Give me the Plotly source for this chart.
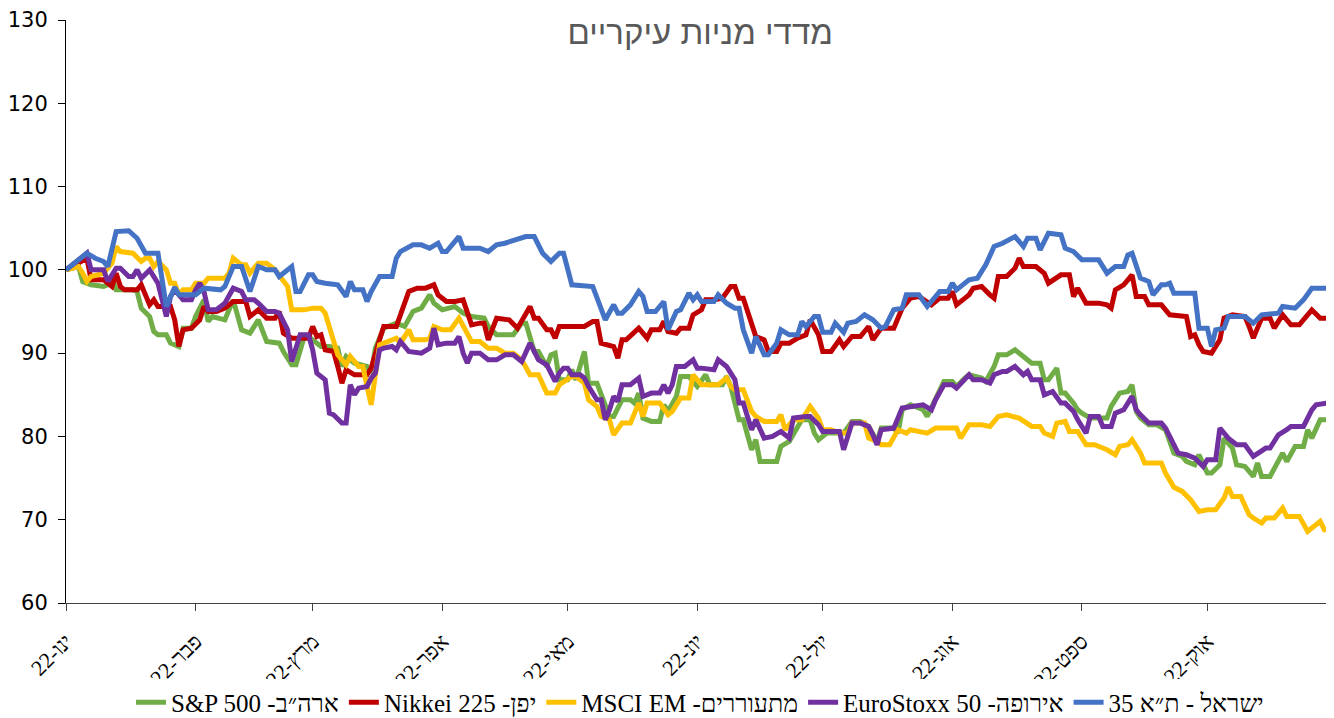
import pandas as pd
import plotly.graph_objects as go

# trading-day offsets (days since 2022-01-01) and index values, base = 100
sp500_days = [0, 3, 4, 6, 9, 10, 11, 12, 16, 17, 18, 20, 21, 22, 24, 25, 27, 28, 30, 31, 33, 34, 35, 38, 40, 42, 44, 46, 48, 51, 52, 54, 55, 57, 58, 60, 61, 63, 65, 66, 67, 69, 72, 73, 74, 76, 79, 81, 83, 85, 87, 88, 90, 93, 95, 97, 100, 101, 103, 107, 109, 110, 112, 113, 115, 116, 117, 118, 120, 121, 122, 124, 125, 127, 129, 130, 131, 133, 135, 136, 137, 138, 140, 142, 143, 144, 146, 147, 149, 151, 153, 154, 157, 158, 159, 161, 162, 164, 165, 166, 170, 171, 173, 175, 176, 178, 179, 180, 182, 184, 186, 188, 190, 192, 193, 194, 195, 198, 199, 200, 202, 205, 206, 208, 210, 212, 213, 215, 216, 219, 220, 222, 223, 225, 227, 229, 231, 233, 234, 235, 237, 238, 239, 241, 242, 243, 245, 247, 249, 250, 252, 254, 255, 256, 257, 259, 261, 263, 265, 267, 268, 270, 271, 273, 274, 276, 277, 279, 280, 282, 284, 285, 286, 288, 290, 291, 292, 294, 296, 297, 298, 300, 302, 303]
sp500 = [100, 100.4, 98.6, 98.2, 98, 98.2, 99, 97.6, 97.6, 97.4, 95.4, 94.4, 92.6, 92.2, 92.2, 91.2, 90.8, 93, 93, 94.4, 96.4, 93.8, 94.4, 94, 96.4, 92.8, 92.4, 94, 91.4, 91.2, 90.2, 88.6, 88.6, 92, 92, 91.2, 90.8, 90.8, 90.6, 88.4, 89.6, 88.8, 88.4, 87.6, 90.6, 93, 93.6, 93.2, 95, 95.4, 97, 96, 95.2, 95.6, 94.8, 94.4, 94.2, 93.2, 92.2, 92.2, 93.6, 93.6, 90.2, 90.2, 88.4, 89.8, 90, 86.8, 86.8, 88, 86.8, 90.2, 86.4, 86.4, 83.6, 82.4, 82.4, 84.4, 84.4, 84, 85.2, 82.2, 81.8, 81.8, 83.8, 83, 84.8, 87.2, 87.2, 86, 87.4, 86.2, 86.2, 87.2, 86, 82, 82, 78.4, 79.6, 77, 77, 78.8, 79.4, 81.2, 82, 82, 80.4, 79.6, 80.4, 80.4, 80.4, 81.8, 81.8, 81.2, 80.4, 79.4, 81, 81, 80.4, 83.2, 83.8, 83.2, 82.4, 84.4, 86.6, 86.6, 86, 87, 87.4, 87, 86.6, 88.4, 89.8, 89.8, 90.4, 89.6, 88.8, 88.8, 86.8, 86.8, 88.2, 85.2, 85.2, 84, 83.2, 82.8, 82.2, 82.2, 82.2, 83.6, 85.2, 85.4, 86.2, 83, 82.2, 81.4, 81.4, 80.8, 78, 77.6, 77, 76.6, 77.8, 75.6, 75.6, 76.6, 79.8, 78.6, 76.6, 76.4, 75.2, 76.8, 75.2, 75.2, 77.2, 78, 77, 78.8, 78.8, 80.8, 79.8, 82, 82, 81.2]

nikkei_days = [0, 3, 5, 6, 9, 11, 12, 13, 14, 17, 18, 20, 21, 22, 25, 26, 27, 28, 30, 32, 33, 34, 36, 38, 40, 43, 44, 46, 48, 50, 51, 52, 54, 58, 59, 60, 61, 62, 64, 65, 66, 67, 69, 72, 73, 75, 76, 79, 82, 84, 86, 88, 89, 91, 93, 95, 97, 99, 100, 101, 103, 106, 108, 111, 112, 113, 115, 116, 117, 118, 124, 126, 127, 128, 131, 132, 133, 134, 137, 139, 140, 142, 143, 144, 146, 147, 149, 150, 152, 153, 155, 157, 159, 160, 161, 162, 164, 165, 167, 168, 170, 171, 173, 175, 177, 178, 180, 181, 183, 185, 186, 188, 190, 192, 193, 195, 198, 200, 202, 204, 207, 209, 211, 212, 213, 216, 217, 219, 221, 222, 223, 225, 227, 228, 229, 232, 234, 235, 238, 240, 241, 242, 244, 247, 249, 250, 251, 253, 255, 256, 258, 259, 262, 264, 268, 269, 270, 271, 272, 274, 276, 277, 279, 282, 283, 284, 286, 288, 289, 291, 293, 295, 298, 300, 302, 303]
nikkei = [100, 100.8, 101.4, 98.8, 98.8, 98, 99.6, 98, 97.6, 97.6, 98.2, 95.8, 96.4, 95.6, 95.6, 94, 90.8, 92.8, 93, 94, 95.6, 95, 95, 95.4, 96.2, 96.2, 94.4, 95.2, 94.2, 94.2, 95, 92.4, 91.8, 91.8, 93.2, 92, 92.2, 90.4, 90.2, 88.4, 86.4, 88, 87.4, 87.4, 88.2, 91.6, 93.2, 93.2, 97.4, 97.8, 97.8, 98.2, 97, 96.2, 96.2, 96.4, 93.4, 93.6, 93.6, 91.6, 94.2, 94, 93, 95.6, 94.2, 94.2, 92.8, 92.8, 91.8, 93.2, 93.2, 93.8, 93.8, 91.2, 90.8, 89.4, 91.6, 91.6, 93, 91.8, 92.8, 92.8, 93.8, 92.6, 92.4, 93, 93, 94.6, 95.2, 96.4, 96.4, 96.6, 98, 98, 96.6, 96.6, 93.6, 92, 91.6, 90.2, 90.2, 91.2, 91.2, 91.8, 92.2, 94, 92.2, 90.2, 90.2, 91.6, 90.8, 92, 92, 93.2, 91.6, 93, 93, 95.4, 96.6, 96.8, 95.8, 96.6, 96.6, 97.4, 95.8, 97, 97.8, 98, 97, 96.6, 99.2, 99.2, 100.2, 101.4, 100.4, 100.4, 99.6, 98.4, 99.4, 99.4, 96.8, 97.8, 96, 96, 95.8, 95.4, 97.6, 98.2, 99.4, 96.8, 96.8, 95.8, 95.8, 94.6, 94.4, 92, 92.2, 91, 90.2, 90, 91.6, 94.2, 94.6, 94.4, 93.2, 91.8, 94.2, 94.2, 93, 94.6, 93.4, 93.4, 95.2, 94.2, 94.2, 95.6]

msci_em_days = [0, 3, 4, 5, 6, 9, 11, 12, 13, 15, 16, 18, 19, 20, 21, 22, 24, 25, 26, 27, 28, 30, 31, 33, 34, 38, 39, 40, 42, 43, 44, 46, 48, 50, 51, 53, 54, 57, 59, 61, 62, 63, 64, 65, 67, 68, 70, 71, 72, 73, 75, 76, 79, 80, 82, 83, 86, 87, 88, 90, 92, 94, 95, 97, 99, 101, 103, 105, 107, 109, 111, 113, 115, 117, 118, 121, 122, 124, 125, 127, 128, 130, 131, 133, 135, 136, 137, 138, 139, 142, 144, 145, 147, 149, 150, 152, 154, 156, 158, 159, 160, 162, 164, 165, 167, 170, 171, 172, 174, 176, 178, 180, 181, 183, 185, 187, 188, 191, 192, 194, 195, 197, 199, 201, 202, 205, 206, 208, 210, 213, 214, 216, 219, 221, 223, 225, 228, 231, 233, 234, 236, 237, 239, 240, 242, 244, 246, 249, 251, 252, 254, 255, 257, 258, 260, 262, 263, 265, 267, 269, 271, 273, 275, 277, 278, 279, 281, 283, 284, 286, 287, 289, 291, 292, 295, 297, 298, 300, 301, 303]
msci_em = [100, 100.4, 99.6, 98.6, 99.2, 99.6, 100.8, 102.8, 102.2, 102, 102, 101, 101.4, 101.4, 100.4, 101, 100, 98.4, 98.4, 97, 97.6, 97.6, 98.4, 98.4, 99, 99, 99.6, 101.4, 100.6, 100.6, 99.6, 100.8, 100.8, 100, 99.4, 98, 95.2, 95.2, 95.4, 95.4, 94.8, 93, 91.6, 89.8, 88.6, 89.6, 88.4, 88.4, 86, 83.8, 91, 91.2, 91.8, 91.2, 92.8, 91.6, 91.6, 91.8, 93.2, 92.8, 92.8, 94.2, 93.2, 91.4, 91.4, 90.6, 90.6, 90, 90, 89.2, 87.4, 87.4, 85.2, 85.2, 86.2, 87.2, 87.2, 86.4, 84.4, 83.6, 82.4, 82, 80.2, 81.6, 81.6, 83, 84, 82.4, 84, 84, 82.6, 83, 84.6, 84.6, 87.4, 86.2, 86.2, 86.2, 87, 86, 85.6, 85.6, 83, 82.4, 81.8, 81.8, 82.6, 80.8, 82, 82, 83.6, 82.2, 80.8, 80.8, 80.4, 80.4, 81.6, 81.6, 79.8, 79.4, 79, 79, 80.8, 80.4, 80.8, 80.4, 80.4, 81, 81, 81, 79.8, 81.4, 81.4, 81.2, 82.4, 82.6, 82.2, 81.2, 81.2, 80.4, 80, 81.6, 81.8, 80.6, 80.6, 79, 79, 78.4, 77.8, 78.8, 79, 79.6, 78, 76.8, 76.8, 76.8, 75.6, 73.9, 73.4, 72.4, 71, 71.2, 71.2, 72.6, 73.9, 72.8, 72.8, 70.6, 70.2, 69.6, 70.2, 70.2, 71.4, 70.4, 70.4, 68.6, 69, 69.8, 68.8, 68.8]

eurostoxx_days = [0, 5, 6, 9, 10, 12, 13, 15, 16, 17, 18, 20, 22, 23, 24, 25, 26, 28, 30, 31, 32, 33, 34, 36, 37, 38, 40, 42, 43, 45, 46, 48, 50, 51, 53, 54, 56, 58, 59, 60, 62, 63, 64, 66, 67, 68, 69, 70, 72, 73, 74, 75, 76, 78, 79, 80, 82, 85, 87, 88, 89, 91, 93, 94, 95, 96, 97, 99, 101, 103, 105, 107, 109, 111, 113, 115, 117, 118, 119, 120, 121, 123, 124, 125, 127, 128, 129, 130, 131, 132, 133, 135, 137, 138, 140, 142, 143, 144, 145, 146, 148, 150, 151, 152, 155, 156, 158, 160, 161, 162, 163, 164, 165, 167, 169, 171, 173, 174, 177, 178, 180, 181, 183, 185, 186, 188, 190, 192, 193, 194, 195, 198, 200, 202, 205, 207, 208, 210, 212, 213, 216, 217, 219, 221, 222, 224, 225, 227, 229, 230, 231, 233, 234, 236, 238, 239, 241, 242, 244, 245, 247, 248, 250, 251, 253, 255, 256, 257, 259, 262, 263, 266, 268, 270, 272, 273, 275, 276, 278, 280, 282, 284, 287, 288, 290, 292, 293, 296, 298, 299, 302, 303]
eurostoxx = [100, 102, 100, 100, 98.6, 100.2, 100.2, 99.2, 99.2, 100, 99, 100, 98.4, 96.4, 94.4, 96.8, 97.6, 96.4, 96.4, 97.6, 98.4, 97.4, 95.2, 95.2, 95.6, 96, 97.8, 97.4, 96.4, 96.4, 96, 95, 95, 94.8, 92.8, 89, 92.2, 92.2, 90.4, 87.6, 86.8, 82.8, 82.6, 81.6, 81.6, 86.2, 85, 85.8, 86, 87, 87.6, 90.4, 90.6, 90.8, 90.4, 91.4, 90.2, 90, 90.6, 93, 91, 91.2, 91.2, 92, 90, 88.8, 90, 90, 89.2, 89.2, 89.8, 89.8, 89, 91.2, 89.2, 88.6, 86.6, 87.6, 88.2, 88.2, 87.4, 87.4, 87, 86, 84.4, 84.4, 82, 83.2, 84.8, 84.2, 86.2, 86.2, 87, 84.8, 85.2, 85.2, 86.2, 85.2, 86.2, 88.4, 88.4, 89.2, 88.2, 88.2, 88, 89.2, 88.4, 86.8, 84, 84, 82.4, 80.8, 82, 79.8, 80, 80.6, 79.8, 82.2, 82.4, 82.4, 81.4, 80.6, 80.6, 80.6, 78.4, 81.6, 81.6, 81.2, 80.2, 79, 80.8, 81, 83.4, 83.6, 83.8, 83.2, 84.4, 86.2, 86.2, 85.8, 87.4, 86.8, 86.8, 86.4, 87.4, 87.8, 87.8, 88.4, 87.4, 87.8, 86.8, 86.8, 85, 85.4, 84, 84, 83, 82, 80.4, 82.4, 82.4, 81.2, 81.2, 82.8, 83.2, 84.8, 83.2, 82.6, 81.6, 81.6, 81, 78, 77.8, 77.4, 76.4, 77.2, 77.2, 81, 79.8, 79, 79, 77.6, 78.6, 78.6, 80.2, 80.8, 81.2, 81.2, 83.2, 83.8, 84, 84.1]

ta35_days = [0, 5, 7, 9, 10, 12, 15, 17, 19, 22, 24, 26, 27, 31, 33, 37, 38, 40, 42, 44, 46, 48, 50, 51, 54, 55, 56, 58, 59, 60, 62, 65, 67, 68, 69, 71, 72, 73, 75, 78, 79, 80, 83, 85, 87, 89, 90, 91, 94, 95, 99, 101, 103, 105, 110, 112, 114, 116, 118, 119, 121, 126, 129, 131, 132, 133, 135, 137, 138, 139, 141, 143, 144, 146, 147, 149, 150, 151, 152, 155, 156, 158, 160, 161, 162, 164, 165, 167, 168, 170, 171, 173, 175, 176, 177, 179, 180, 181, 183, 184, 186, 187, 189, 191, 193, 195, 196, 198, 200, 201, 204, 206, 209, 211, 212, 213, 216, 218, 220, 222, 224, 226, 227, 229, 230, 232, 233, 235, 238, 239, 241, 243, 247, 249, 251, 253, 254, 255, 257, 259, 260, 262, 263, 264, 265, 270, 271, 273, 274, 275, 277, 278, 282, 284, 286, 290, 291, 294, 296, 298, 302, 303]
ta35 = [100, 102, 101.4, 101, 100.4, 104.6, 104.7, 103.8, 102, 102, 95.6, 97.9, 97, 97, 97.8, 97.6, 98, 100.4, 100.4, 97.4, 100.4, 100, 100, 99.2, 100.4, 97.4, 97.4, 99.4, 99.4, 98.6, 98.4, 98.2, 96.8, 98.6, 97.6, 97.6, 96.2, 97.4, 99.2, 99.2, 101.4, 102.2, 103, 103, 102.6, 103.2, 102.2, 102.2, 104, 102.6, 102.6, 102.2, 103, 103.2, 104, 104, 102, 101, 102, 102, 98.2, 98, 94, 95.8, 94.8, 94.8, 95.8, 97.4, 96.8, 95, 95, 96.2, 92.8, 95, 95.2, 97.2, 96.4, 97, 96.2, 96.2, 97, 96, 95.4, 95.4, 92.8, 90, 92, 89.8, 89.8, 91.2, 92.8, 92.2, 92.2, 93.8, 93.2, 94.4, 94.4, 92.5, 92.5, 93.6, 92.5, 93.6, 93.8, 94.6, 94, 93, 93.2, 95.2, 95.4, 97, 97, 95.6, 97.4, 97.4, 98.4, 97.6, 98.8, 99, 100.6, 102.8, 103.2, 103.8, 104, 102.8, 103.8, 103.8, 102.4, 104.4, 104.2, 102.6, 102.2, 101.2, 101.2, 99.6, 100.4, 100.4, 101.8, 102, 99, 98.6, 97, 98.2, 98.2, 98.4, 97.2, 97.2, 93, 93, 90.8, 92.8, 93, 94.4, 94.4, 93.6, 94.6, 94.8, 95.6, 95.4, 96.4, 97.8, 97.8, 98.4]

month_starts = ['2022-01-01', '2022-02-01', '2022-03-01', '2022-04-01', '2022-05-01',
                '2022-06-01', '2022-07-01', '2022-08-01', '2022-09-01', '2022-10-01']
month_labels = ['ינו-22', 'פבר-22', 'מרץ-22', 'אפר-22', 'מאי-22',
                'יונ-22', 'יול-22', 'אוג-22', 'ספט-22', 'אוק-22']

series = [
    ('ארה״ב- S&P 500', sp500_days, sp500, '#70AD47'),
    ('יפן- Nikkei 225', nikkei_days, nikkei, '#C00000'),
    ('מתעוררים- MSCI EM', msci_em_days, msci_em, '#FFC000'),
    ('אירופה- EuroStoxx 50', eurostoxx_days, eurostoxx, '#7030A0'),
    ('ישראל - ת״א 35', ta35_days, ta35, '#4472C4'),
]

start = pd.Timestamp('2022-01-01')

fig = go.Figure()
for name, days, vals, color in series:
    dates = start + pd.to_timedelta(days, unit='D')
    # RLE ... PDF so the mixed Hebrew/Latin names read right-to-left
    fig.add_trace(go.Scatter(x=dates, y=vals, mode='lines',
                             name='\u202b' + name + '\u202c',
                             line=dict(color=color, width=5)))

# page body has an 8px margin, so the figure is sized to fit inside the window
fig.update_layout(
    width=1326, height=710,
    margin=dict(l=58, r=0, t=12, b=115, autoexpand=False),
    paper_bgcolor='white', plot_bgcolor='white',
    title=dict(text='מדדי מניות עיקריים', x=0.522, xanchor='center',
               y=0.966, yanchor='middle', xref='container', yref='container',
               font=dict(family='Liberation Sans, Arial, sans-serif', size=33, color='#595959')),
    legend=dict(orientation='h', x=0.5, xanchor='center',
                y=0.022, yanchor='middle', yref='container',
                font=dict(family='Liberation Serif, Times New Roman, serif', size=25, color='black'),
                traceorder='normal'),
    showlegend=True,
)
fig.update_xaxes(range=[start, start + pd.Timedelta(days=303.3)],
                 tickvals=month_starts, ticktext=month_labels, tickangle=-45,
                 tickfont=dict(family='Liberation Serif, Times New Roman, serif', size=22, color='black'),
                 showgrid=False, zeroline=False, showline=True, linecolor='#404040', linewidth=1,
                 ticks='outside', ticklen=7, tickcolor='#404040', ticklabelstandoff=9,
                 automargin=False)
fig.update_yaxes(range=[60, 130], dtick=10, showgrid=False, zeroline=False,
                 showline=True, linecolor='black', linewidth=1,
                 ticks='outside', ticklen=7, tickcolor='black', ticklabelstandoff=6,
                 tickfont=dict(family='DejaVu Sans, sans-serif', size=21, color='black'),
                 automargin=False)

fig.write_html('out.html')
